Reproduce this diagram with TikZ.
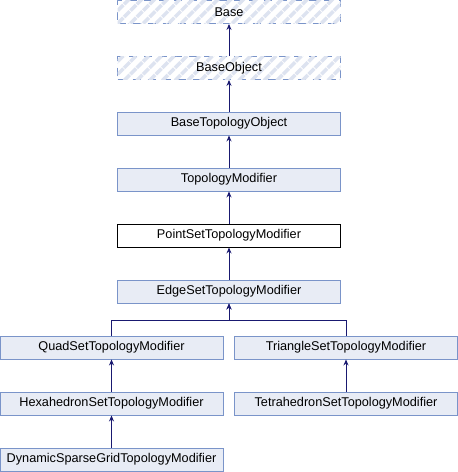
\documentclass[tikz,border=0pt]{standalone}
\usepackage{fontspec}
\setmainfont{Liberation Sans}
\usetikzlibrary{arrows.meta,patterns.meta}
\definecolor{boxfill}{HTML}{E8ECF5}
\definecolor{boxline}{HTML}{7A94C9}
\definecolor{hatch}{HTML}{DDE3F0}
\definecolor{edgecol}{HTML}{191970}
\tikzset{
  cls/.style={draw=boxline, fill=boxfill, line width=0.9pt, minimum width=223pt, minimum height=23pt, inner sep=0pt, font=\fontsize{12.7pt}{14pt}\selectfont},
  cur/.style={cls, draw=black, fill=white},
  ext/.style={cls, dashed, dash pattern=on 8pt off 7pt, fill=white, postaction={pattern={Lines[angle=45,distance=9pt,line width=3.5pt]}, pattern color=hatch}},
  inh/.style={draw=edgecol, line width=0.9pt, -{Stealth[length=6pt,width=5pt]}}
}
\begin{document}
\begin{tikzpicture}[x=1pt,y=-1pt]
\useasboundingbox (0,0) rectangle (458,472);
\node[ext] (base) at (229,12) {Base};
\node[ext] (bobj) at (229,68) {BaseObject};
\node[cls] (bto) at (229,123.5) {BaseTopologyObject};
\node[cls] (tm) at (229,179.5) {TopologyModifier};
\node[cur] (ps) at (229,235.5) {PointSetTopologyModifier};
\node[cls] (es) at (229,291.5) {EdgeSetTopologyModifier};
\node[cls] (quad) at (111.5,347.5) {QuadSetTopologyModifier};
\node[cls] (tri) at (346,347.5) {TriangleSetTopologyModifier};
\node[cls] (hex) at (111.5,403.5) {HexahedronSetTopologyModifier};
\node[cls] (tet) at (346,403.5) {TetrahedronSetTopologyModifier};
\node[cls] (dyn) at (111.5,459.5) {DynamicSparseGridTopologyModifier};
\coordinate (j) at (229,320);
\draw[inh] (bobj) -- (base);
\draw[inh] (bto) -- (bobj);
\draw[inh] (tm) -- (bto);
\draw[inh] (ps) -- (tm);
\draw[inh] (es) -- (ps);
\draw[inh] (quad.north) |- (j) -- (es.south);
\draw[inh] (tri.north) |- (j) -- (es.south);
\draw[inh] (hex) -- (quad);
\draw[inh] (tet) -- (tri);
\draw[inh] (dyn) -- (hex);
\end{tikzpicture}
\end{document}
